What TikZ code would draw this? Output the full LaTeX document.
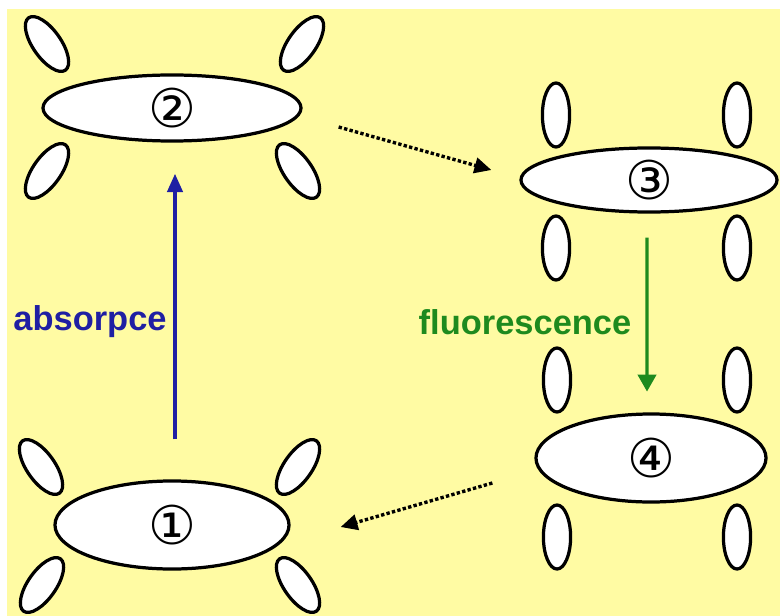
\documentclass[tikz,border=0pt]{standalone}
\usepackage{fontspec}
\usetikzlibrary{shapes.geometric,arrows.meta}
\newfontfamily\labfont{Liberation Sans}
\newfontfamily\symfont{DejaVu Sans}
\definecolor{bgyellow}{HTML}{FFFBA3}
\definecolor{absblue}{HTML}{1F1FA3}
\definecolor{flgreen}{HTML}{1E8A1E}
\tikzset{
  lobe/.style={ellipse, draw=black, fill=white, line width=2.3pt, inner sep=0pt,
    minimum width=1.6cm, minimum height=0.7cm},
  vlobe/.style={ellipse, draw=black, fill=white, line width=2.3pt, inner sep=0pt,
    minimum width=0.68cm, minimum height=1.6cm},
  core/.style={ellipse, draw=black, fill=white, line width=2.3pt, inner sep=0pt,
    font=\symfont\fontsize{38}{38}\selectfont},
  dotarrow/.style={line width=2.4pt, dash pattern=on 2.4pt off 1.6pt,
    -{Triangle[length=12pt,width=11pt,sep=0pt]}},
  label/.style={font=\labfont\bfseries\fontsize{24.5}{26}\selectfont, inner sep=0pt}
}
\begin{document}
\begin{tikzpicture}[x=0.025cm, y=-0.025cm]
\useasboundingbox (0,0) rectangle (780,616);
\fill[white] (0,0) rectangle (780,616);
\fill[bgyellow] (7,9) rectangle (780,616);

% molecule 2 (top left)
\node[lobe, rotate=-55] (m2tl) at (47,44) {};
\node[lobe, rotate=55] (m2tr) at (302,44) {};
\node[lobe, rotate=55] (m2bl) at (47,171) {};
\node[lobe, rotate=-55] (m2br) at (298,171) {};
\node[core, minimum width=6.45cm, minimum height=1.65cm] (m2) at (172,108) {②};

% molecule 3 (top right)
\node[vlobe] (m3tl) at (556,115) {};
\node[vlobe] (m3tr) at (737,115) {};
\node[vlobe] (m3bl) at (556,248) {};
\node[vlobe] (m3br) at (737,248) {};
\node[core, minimum width=6.4cm, minimum height=1.6cm] (m3) at (649,180) {③};

% molecule 4 (bottom right)
\node[vlobe] (m4tl) at (557,380) {};
\node[vlobe] (m4tr) at (737,380) {};
\node[vlobe] (m4bl) at (557,537) {};
\node[vlobe] (m4br) at (737,537) {};
\node[core, minimum width=5.75cm, minimum height=2.2cm] (m4) at (651,458) {④};

% molecule 1 (bottom left)
\node[lobe, rotate=-55] (m1tl) at (41,467) {};
\node[lobe, rotate=55] (m1tr) at (298,467) {};
\node[lobe, rotate=55] (m1bl) at (42,585) {};
\node[lobe, rotate=-55] (m1br) at (298,585) {};
\node[core, minimum width=5.85cm, minimum height=2.2cm] (m1) at (172,525) {①};

% absorption arrow
\coordinate (abs0) at ([xshift=0.075cm,yshift=1cm]m1.north);
\coordinate (abs1) at ([xshift=0.075cm,yshift=-0.78cm]m2.south);
\draw[absblue, line width=2.2pt, -{Triangle[length=13pt,width=11pt]}] (abs0) -- (abs1);
\node[label, text=absblue] (labs) at (90,322) {absorpce};

% fluorescence arrow
\coordinate (fl0) at ([xshift=-0.05cm,yshift=-0.6cm]m3.south);
\coordinate (fl1) at ([xshift=-0.1cm,yshift=0.52cm]m4.north);
\draw[flgreen, line width=2.2pt, -{Triangle[length=12pt,width=13pt]}] (fl0) -- (fl1);
\node[label, text=flgreen] (lfl) at (525,322) {fluorescence};

% relaxation arrows
\coordinate (d23a) at ([shift={(36,19)}]m2.east);
\coordinate (d23b) at ([shift={(-28,-10)}]m3.west);
\draw[dotarrow] (d23a) -- (d23b);
\coordinate (d41a) at ([shift={(-42,25)}]m4.west);
\coordinate (d41b) at ([shift={(50,2)}]m1.east);
\draw[dotarrow] (d41a) -- (d41b);
\end{tikzpicture}
\end{document}
